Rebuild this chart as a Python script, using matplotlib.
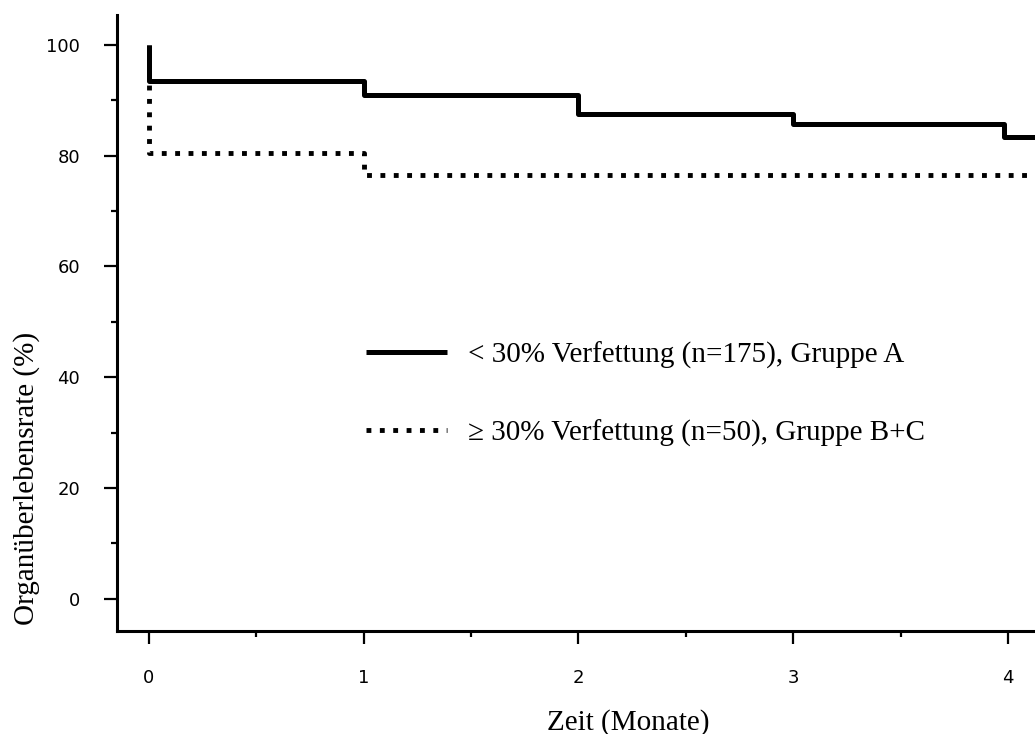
import matplotlib
matplotlib.use('Agg')
import matplotlib.pyplot as plt
from matplotlib.ticker import MultipleLocator

# Kaplan-Meier steps (time in months, survival in %)
time_a = [0, 0, 1, 2, 3, 3.98, 4.2]
surv_a = [100, 93.4, 91.0, 87.5, 85.7, 83.4, 83.4]
time_bc = [0, 0, 1, 4.2]
surv_bc = [100, 80.5, 76.5, 76.5]

label_a = "< 30% Verfettung (n=175), Gruppe A"
label_bc = "\u2265 30% Verfettung (n=50), Gruppe B+C"

x_ticks = [0, 1, 2, 3, 4]
y_ticks = [0, 20, 40, 60, 80, 100]

serif = ['Liberation Serif', 'DejaVu Serif']

fig = plt.figure(figsize=(10.35, 7.34), dpi=100)
ax = fig.add_axes([117/1035, 103/734, 918/1035, 616/734])

ax.step(time_bc, surv_bc, where='post', color='black', lw=3.5,
        linestyle=(0, (1.0, 1.75)), dash_capstyle='butt', label=label_bc, zorder=2)
ax.step(time_a, surv_a, where='post', color='black', lw=3.6,
        solid_capstyle='butt', label=label_a, zorder=3)

ax.set_xlim(-0.149, 4.126)
ax.set_ylim(-5.8, 105.4)

ax.set_xticks(x_ticks)
ax.set_yticks(y_ticks)
ax.xaxis.set_minor_locator(MultipleLocator(0.5))
ax.yaxis.set_minor_locator(MultipleLocator(10))

for s in ['top', 'right']:
    ax.spines[s].set_visible(False)
for s in ['left', 'bottom']:
    ax.spines[s].set_linewidth(2.2)

ax.tick_params(which='major', direction='out', length=9.5, width=1.6,
               labelsize=13, pad=17)
ax.tick_params(which='minor', direction='out', length=4.5, width=1.6)
ax.tick_params(axis='x', which='major', pad=18)

ax.set_xlabel("Zeit (Monate)", family=serif, fontsize=21)
ax.set_ylabel("Organüberlebensrate (%)", family=serif, fontsize=21)
ax.xaxis.set_label_coords(0.557, -0.126)
ax.yaxis.set_label_coords(-0.084, 0.248)

h, l = ax.get_legend_handles_labels()
ax.legend(h[::-1], l[::-1], loc='upper left', bbox_to_anchor=(0.243, 0.513),
          frameon=False, handlelength=2.75, handletextpad=0.75, labelspacing=1.75,
          prop={'family': serif, 'size': 21})

fig.savefig('out.png', dpi=100)
